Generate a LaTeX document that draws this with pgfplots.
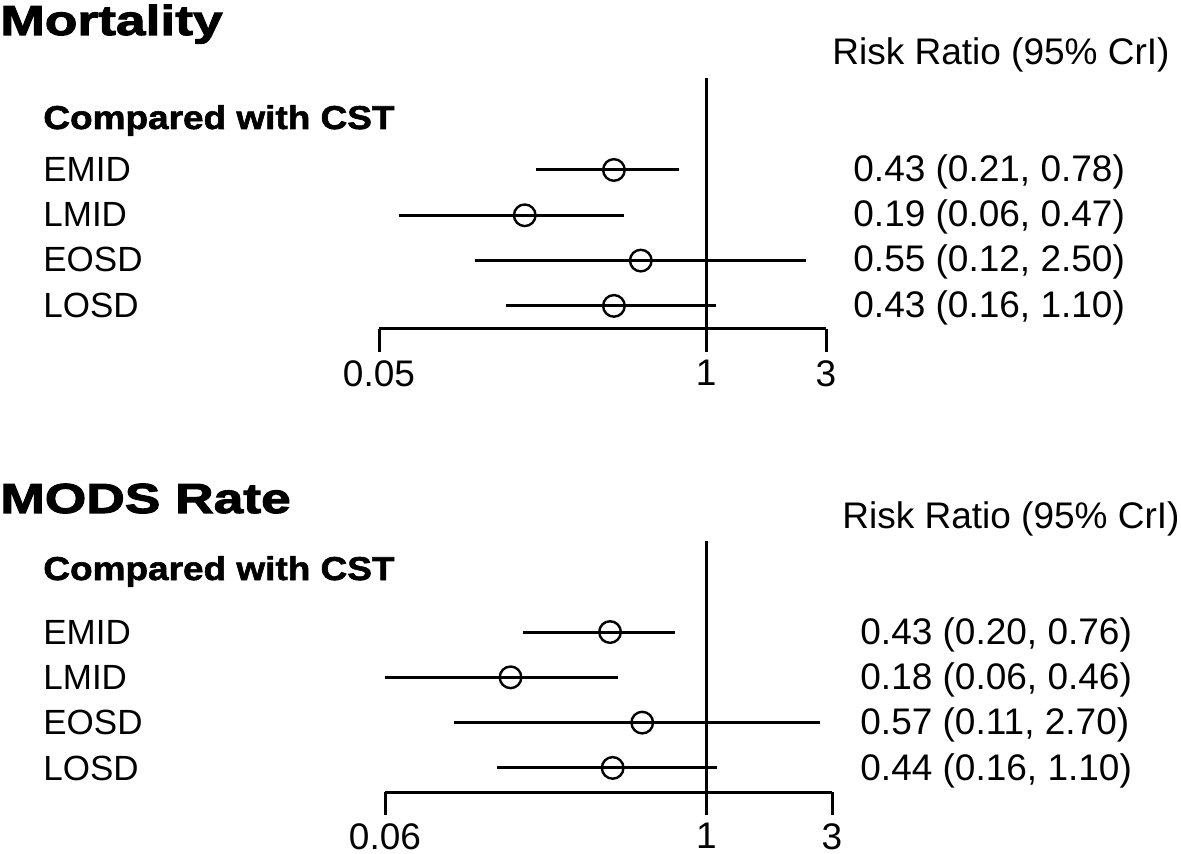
\documentclass[border=0pt]{standalone}
\usepackage{fontspec}
\setmainfont{Liberation Sans}
\newfontfamily\headfont[FakeStretch=1.27,BoldFeatures={FakeBold=2.5}]{Liberation Sans}
\newfontfamily\subfont[FakeStretch=1.12,BoldFeatures={FakeBold=1.8}]{Liberation Sans}
\usepackage{pgfplots}
\pgfplotsset{compat=1.18}
\newcommand\rowfont{\fontsize{17.5}{21}\selectfont}
\newcommand\valfont{\fontsize{18.5}{22}\selectfont}
\tikzset{
  myci/.style={black, line width=1.5pt},
  mypt/.style={black, mark=o, mark size=5.4pt, mark options={line width=1.2pt}},
}
\begin{document}
\begin{tikzpicture}[x=0.5pt,y=-0.5pt]
\path (0,0) rectangle (1181,854);
% ---------------- Mortality ----------------
\begin{axis}[
    scale only axis, xmode=log,
    width=223.5pt, height=125.5pt,
    axis x line*=bottom, axis y line=none,
    tick align=outside, major tick length=11.5pt,
    xminorticks=false, ytick=\empty,
    xtick style={black, line width=1.5pt},
    axis line style={black, line width=1.5pt},
    clip=false,
    xticklabel style={font=\valfont, inner sep=0pt, yshift=-4pt},
    anchor=south west, at={(189.5pt,-164.5pt)},
    xmin=0.05, xmax=3, ymin=0.49, ymax=6.03,
    xtick={0.05,1,3}, xticklabels={0.05,1,3}]
\addplot[myci, no marks] coordinates {(1,-0.02) (1,6.03)};
\addplot[myci, no marks] coordinates {(0.21,4) (0.78,4)};
\addplot[myci, no marks] coordinates {(0.06,3) (0.47,3)};
\addplot[myci, no marks] coordinates {(0.12,2) (2.50,2)};
\addplot[myci, no marks] coordinates {(0.16,1) (1.10,1)};
\addplot[mypt, only marks] coordinates {(0.43,4) (0.19,3) (0.55,2) (0.43,1)};
\end{axis}
\begin{scope}[every node/.style={inner sep=0pt, anchor=base west}]
\node at (0,35) {\headfont\bfseries\fontsize{21}{25}\selectfont Mortality};
\node at (43,129) {\subfont\bfseries\fontsize{16.5}{19}\selectfont Compared with CST};
\node at (832,65) {\valfont Risk Ratio (95\% CrI)};
\node at (43,182) {\rowfont EMID};
\node at (43,227) {\rowfont LMID};
\node at (43,272) {\rowfont EOSD};
\node at (43,318) {\rowfont LOSD};
\node at (853,182) {\valfont 0.43 (0.21, 0.78)};
\node at (853,227) {\valfont 0.19 (0.06, 0.47)};
\node at (853,272) {\valfont 0.55 (0.12, 2.50)};
\node at (853,318) {\valfont 0.43 (0.16, 1.10)};
\end{scope}
% ---------------- MODS Rate ----------------
\begin{axis}[
    scale only axis, xmode=log,
    width=223.5pt, height=125.5pt,
    axis x line*=bottom, axis y line=none,
    tick align=outside, major tick length=11.5pt,
    xminorticks=false, ytick=\empty,
    xtick style={black, line width=1.5pt},
    axis line style={black, line width=1.5pt},
    clip=false,
    xticklabel style={font=\valfont, inner sep=0pt, yshift=-4pt},
    anchor=south west, at={(192.5pt,-396pt)},
    xmin=0.06, xmax=3, ymin=0.468, ymax=6.01,
    xtick={0.06,1,3}, xticklabels={0.06,1,3}]
\addplot[myci, no marks] coordinates {(1,-0.04) (1,6.01)};
\addplot[myci, no marks] coordinates {(0.20,4) (0.76,4)};
\addplot[myci, no marks] coordinates {(0.06,3) (0.46,3)};
\addplot[myci, no marks] coordinates {(0.11,2) (2.70,2)};
\addplot[myci, no marks] coordinates {(0.16,1) (1.10,1)};
\addplot[mypt, only marks] coordinates {(0.43,4) (0.18,3) (0.57,2) (0.44,1)};
\end{axis}
\begin{scope}[every node/.style={inner sep=0pt, anchor=base west}]
\node at (0,513) {\headfont\bfseries\fontsize{21}{25}\selectfont MODS Rate};
\node at (43,580) {\subfont\bfseries\fontsize{16.5}{19}\selectfont Compared with CST};
\node at (842,528) {\valfont Risk Ratio (95\% CrI)};
\node at (43,644) {\rowfont EMID};
\node at (43,689) {\rowfont LMID};
\node at (43,734) {\rowfont EOSD};
\node at (43,780) {\rowfont LOSD};
\node at (860,644) {\valfont 0.43 (0.20, 0.76)};
\node at (860,689) {\valfont 0.18 (0.06, 0.46)};
\node at (860,734) {\valfont 0.57 (0.11, 2.70)};
\node at (860,780) {\valfont 0.44 (0.16, 1.10)};
\end{scope}
\end{tikzpicture}
\end{document}
